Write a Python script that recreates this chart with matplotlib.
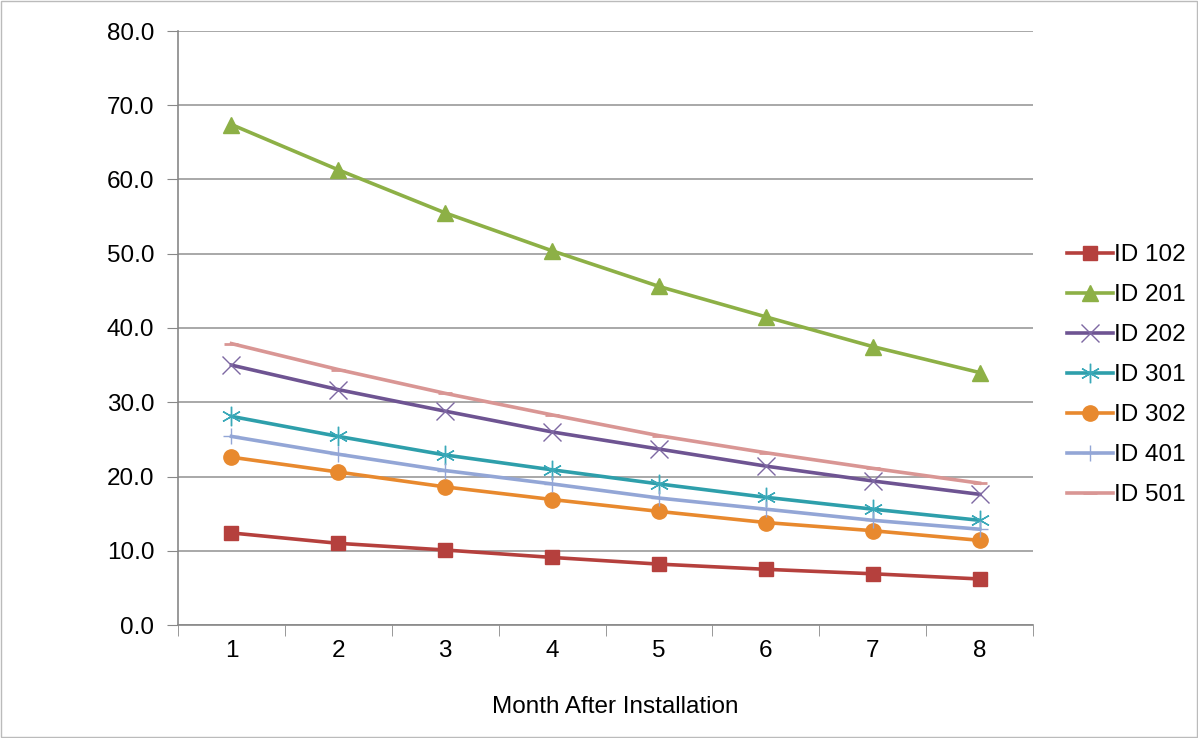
import matplotlib
matplotlib.use("Agg")
import matplotlib.pyplot as plt
from matplotlib.patches import Rectangle

months = [1, 2, 3, 4, 5, 6, 7, 8]
id102 = [12.4, 11.0, 10.1, 9.1, 8.2, 7.5, 6.9, 6.2]
id201 = [67.4, 61.3, 55.5, 50.4, 45.6, 41.5, 37.5, 34.0]
id202 = [35.0, 31.7, 28.8, 26.0, 23.7, 21.4, 19.4, 17.6]
id301 = [28.1, 25.4, 22.9, 20.9, 19.0, 17.2, 15.6, 14.1]
id302 = [22.6, 20.6, 18.6, 16.9, 15.3, 13.8, 12.7, 11.4]
id401 = [25.4, 23.0, 20.8, 19.0, 17.1, 15.6, 14.1, 12.9]
id501 = [37.9, 34.4, 31.2, 28.3, 25.5, 23.2, 21.1, 19.1]
labels = ["ID 102", "ID 201", "ID 202", "ID 301", "ID 302", "ID 401", "ID 501"]

plt.rcParams['font.family'] = ['Liberation Sans', 'DejaVu Sans']
FS = 17.5

fig = plt.figure(figsize=(11.98, 7.38), dpi=100)
ax = fig.add_axes([178/1198, 1-625/738, (1033-178)/1198, (625-31)/738])

series = [id102, id201, id202, id301, id302, id401, id501]
styles = [
    dict(color="#B5403D", marker="s", ms=10, mew=1),
    dict(color="#8DB046", marker="^", ms=11, mew=1),
    dict(color="#6E5492", marker="x", ms=13, mew=1.0, mec="#7E68A3"),
    dict(color="#2E9FAB", marker=(6, 2, 0), ms=14, mew=1.0, mec="#3AA9B9"),
    dict(color="#E8892E", marker="o", ms=11, mew=1),
    dict(color="#93A6D6", marker="+", ms=12, mew=1.0),
    dict(color="#D99694", marker="_", ms=10, mew=2.0),
]
for vals, lab, st in zip(series, labels, styles):
    ax.plot(months, vals, lw=2.6, label=lab, **st)

ax.set_xlim(0.5, 8.5)
ax.set_ylim(0, 80)
ax.set_yticks(range(0, 81, 10))
ax.set_yticklabels([f"{v:.1f}" for v in range(0, 81, 10)])
ax.set_xticks(months)
ax.set_xticks([i + 0.5 for i in range(0, 9)], minor=True)
ax.tick_params(axis="x", which="major", length=0, pad=11, labelsize=FS)
ax.tick_params(axis="x", which="minor", length=8, color="#888888", direction="out")
ax.tick_params(axis="y", length=8, color="#888888", direction="out", labelsize=FS, pad=9)
ax.grid(axis="y", color="#9A9A9A", lw=1.2)
ax.set_axisbelow(True)
for s in ["top", "right"]:
    ax.spines[s].set_visible(False)
for s in ["left", "bottom"]:
    ax.spines[s].set_color("#888888")
    ax.spines[s].set_linewidth(1.2)

fig.text(615/1198, 1-707/738, "Month After Installation", ha="center", va="center", fontsize=FS)

leg = fig.legend(loc="center left", bbox_to_anchor=(1057/1198, 1-375/738), frameon=False,
                 fontsize=FS, handlelength=1.9, handletextpad=0.05, labelspacing=0.74,
                 borderaxespad=0)

fig.patches.append(Rectangle((0.001, 0.001), 0.998, 0.998, transform=fig.transFigure,
                             fill=False, edgecolor="#BBBBBB", lw=1))

fig.savefig("out.png", dpi=100)
